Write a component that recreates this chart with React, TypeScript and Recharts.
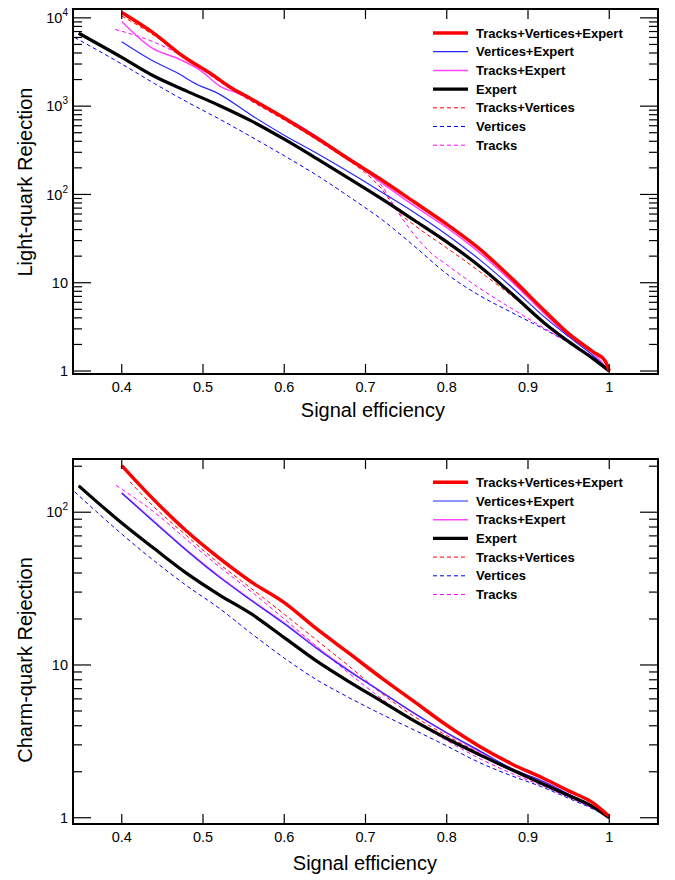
import React from 'react';
import { LineChart, Line, XAxis, YAxis } from 'recharts';

type Pt = [number, number];

// light-quark rejection vs signal efficiency
const lightTVE: Pt[] = [[0.4, 11500], [0.438, 6850], [0.475, 3700], [0.512, 2250], [0.533, 1650], [0.56, 1200], [0.6, 735], [0.64, 435], [0.68, 250], [0.72, 146], [0.76, 82], [0.8, 46], [0.84, 24.3], [0.88, 11.2], [0.92, 4.84], [0.95, 2.65], [0.98, 1.65], [0.995, 1.3], [1, 1]];
const lightVE: Pt[] = [[0.4, 5370], [0.438, 3270], [0.467, 2415], [0.494, 1735], [0.516, 1432], [0.56, 785], [0.6, 468], [0.64, 292], [0.68, 178], [0.72, 106], [0.76, 62.5], [0.8, 35], [0.84, 18.4], [0.88, 8.9], [0.92, 4.1], [0.95, 2.45], [0.98, 1.5], [1, 1]];
const lightTE: Pt[] = [[0.4, 9100], [0.438, 4500], [0.471, 3400], [0.498, 2500], [0.52, 1700], [0.545, 1370], [0.586, 870], [0.627, 540], [0.668, 300], [0.72, 135], [0.76, 74], [0.8, 42], [0.84, 22], [0.88, 10.3], [0.92, 4.5], [0.95, 2.5], [0.98, 1.6], [1, 1]];
const lightE: Pt[] = [[0.347, 6700], [0.4, 3570], [0.44, 2180], [0.48, 1480], [0.52, 1017], [0.56, 676], [0.6, 422], [0.64, 254], [0.68, 151], [0.72, 89], [0.76, 51], [0.8, 29], [0.84, 15.5], [0.88, 7.5], [0.92, 3.5], [0.95, 2.15], [0.98, 1.38], [1, 1]];
const lightTV: Pt[] = [[0.4, 10500], [0.44, 6300], [0.48, 3400], [0.52, 1950], [0.56, 1150], [0.6, 700], [0.64, 420], [0.68, 240], [0.7, 175], [0.72, 115], [0.74, 64], [0.76, 45], [0.8, 24.8], [0.84, 13.5], [0.88, 7.1], [0.92, 3.55], [0.95, 2.15], [0.98, 1.38], [1, 1]];
const lightV: Pt[] = [[0.342, 6000], [0.4, 3000], [0.44, 1810], [0.48, 1120], [0.52, 716], [0.56, 446], [0.6, 274], [0.64, 165], [0.68, 94], [0.72, 52], [0.76, 26], [0.8, 12.6], [0.84, 7.2], [0.88, 4.6], [0.92, 2.97], [0.95, 2.1], [0.98, 1.43], [1, 1]];
const lightT: Pt[] = [[0.392, 7400], [0.44, 5300], [0.48, 3450], [0.52, 1900], [0.56, 1130], [0.6, 700], [0.64, 415], [0.68, 240], [0.7, 185], [0.72, 125], [0.74, 63], [0.76, 35], [0.78, 22], [0.8, 16], [0.84, 8.7], [0.88, 5.1], [0.92, 3.05], [0.95, 2.1], [0.98, 1.45], [1, 1]];

// charm-quark rejection vs signal efficiency
const charmTVE: Pt[] = [[0.4, 202], [0.44, 120], [0.48, 75], [0.52, 50], [0.56, 34.8], [0.6, 25.6], [0.64, 17.2], [0.68, 11.9], [0.72, 8.2], [0.76, 5.75], [0.8, 4.03], [0.84, 2.94], [0.88, 2.25], [0.92, 1.8], [0.95, 1.5], [0.98, 1.25], [1, 1.02]];
const charmVE: Pt[] = [[0.4, 133], [0.44, 86], [0.48, 56], [0.52, 37.6], [0.56, 26.3], [0.6, 18.6], [0.64, 12.8], [0.68, 9.1], [0.72, 6.64], [0.76, 4.83], [0.8, 3.6], [0.84, 2.75], [0.88, 2.1], [0.92, 1.72], [0.95, 1.43], [0.98, 1.19], [1, 1]];
const charmTE: Pt[] = [[0.4, 134], [0.44, 87], [0.48, 56.5], [0.52, 38], [0.56, 26.5], [0.6, 18.8], [0.64, 13], [0.68, 9.2], [0.72, 6.65], [0.76, 4.82], [0.8, 3.58], [0.84, 2.72], [0.88, 2.08], [0.92, 1.7], [0.95, 1.42], [0.98, 1.18], [1, 1]];
const charmE: Pt[] = [[0.347, 149], [0.4, 85], [0.44, 57.8], [0.48, 39.8], [0.52, 28.8], [0.56, 21.5], [0.6, 15.1], [0.64, 10.6], [0.68, 7.76], [0.72, 5.78], [0.76, 4.3], [0.8, 3.3], [0.84, 2.59], [0.88, 2.06], [0.92, 1.65], [0.95, 1.4], [0.98, 1.18], [1, 1]];
const charmTV: Pt[] = [[0.41, 158], [0.44, 108], [0.48, 70], [0.52, 46], [0.56, 31.5], [0.6, 21.5], [0.64, 14.5], [0.68, 9.8], [0.72, 6.5], [0.76, 4.6], [0.8, 3.45], [0.84, 2.65], [0.88, 2.06], [0.92, 1.67], [0.95, 1.4], [0.98, 1.17], [1, 1]];
const charmV: Pt[] = [[0.342, 136], [0.4, 72], [0.44, 48], [0.48, 33], [0.52, 23.5], [0.56, 16], [0.6, 11.1], [0.64, 8.0], [0.68, 6.1], [0.72, 4.75], [0.76, 3.75], [0.8, 2.95], [0.84, 2.3], [0.88, 1.88], [0.92, 1.57], [0.95, 1.34], [0.98, 1.14], [1, 1]];
const charmT: Pt[] = [[0.393, 150], [0.44, 100], [0.48, 66], [0.52, 44], [0.56, 30], [0.6, 20], [0.64, 13.2], [0.68, 8.8], [0.72, 6.0], [0.76, 4.3], [0.8, 3.2], [0.84, 2.45], [0.88, 1.95], [0.92, 1.6], [0.95, 1.36], [0.98, 1.15], [1, 1]];

const SERIES_NAMES = ['Tracks+Vertices+Expert', 'Vertices+Expert', 'Tracks+Expert', 'Expert', 'Tracks+Vertices', 'Vertices', 'Tracks'];
const EFF_TICKS = [0.4, 0.5, 0.6, 0.7, 0.8, 0.9, 1];
const EFF_LABELS = ['0.4', '0.5', '0.6', '0.7', '0.8', '0.9', '1'];
const LIGHT_DECADES = [1, 10, 100, 1000, 10000];
const CHARM_DECADES = [1, 10, 100];

// line styles, same order as SERIES_NAMES
const STYLES = [
  { color: '#ff0000', width: 3.5, dash: undefined },
  { color: '#2626ff', width: 1.2, dash: undefined },
  { color: '#ff44ff', width: 1.5, dash: undefined },
  { color: '#000000', width: 3.2, dash: undefined },
  { color: '#ff0000', width: 1, dash: '4 3' },
  { color: '#0000ee', width: 1, dash: '4 3' },
  { color: '#ff00ff', width: 1, dash: '4 3' },
];
// paint order: dashed first, thick curves last
const DRAW_ORDER = [5, 6, 4, 2, 1, 3, 0];

const FONT = '"Liberation Sans", Arial, Helvetica, sans-serif';
const W = 675;
const PANEL_H = 440;
const PLOT_L = 73;
const PLOT_W = 585;
const PLOT_H = 365;
const Y_AXIS_W = 60;
const X_AXIS_H = 30;

const toRows = (pts: Pt[]) => pts.map(([e, r]) => ({ e, r }));

const logTicks = (decades: number[], max: number) =>
  decades.flatMap((d) => [1, 2, 3, 4, 5, 6, 7, 8, 9].map((m) => m * d)).filter((v) => v <= max);

function YTick({ x, y, payload, decades }: any) {
  const v = payload.value;
  const major = decades.includes(v);
  const len = major ? 18 : 9;
  const exp = Math.round(Math.log10(v));
  return (
    <g>
      <line x1={x} x2={x + len} y1={y} y2={y} stroke="#000" strokeWidth={1.2} />
      <line x1={x + PLOT_W} x2={x + PLOT_W - len} y1={y} y2={y} stroke="#000" strokeWidth={1.2} />
      {major && (
        <text x={x - 5} y={y} dy="0.36em" textAnchor="end" fontSize={14.5} fontFamily={FONT} fill="#000">
          {exp < 2 ? (
            String(v)
          ) : (
            <>
              <tspan>10</tspan>
              <tspan dy={-7} fontSize={10}>{exp}</tspan>
            </>
          )}
        </text>
      )}
    </g>
  );
}

function XTick({ x, y, payload, index }: any) {
  return (
    <g>
      <line x1={x} x2={x} y1={y} y2={y - 10} stroke="#000" strokeWidth={1.2} />
      <line x1={x} x2={x} y1={y - PLOT_H} y2={y - PLOT_H + 10} stroke="#000" strokeWidth={1.2} />
      <text x={x} y={y + 18} textAnchor="middle" fontSize={14.5} fontFamily={FONT} fill="#000">
        {EFF_LABELS[index] ?? String(payload.value)}
      </text>
    </g>
  );
}

interface PanelProps {
  top: number;
  plotTop: number;
  series: Pt[][];
  domain: [number, number];
  decades: number[];
  yTitle: string;
  yTitleCenter: number;
  xTitleRight: number;
  xTitleBase: number;
  legendTop: number;
}

function Panel({ top, plotTop, series, domain, decades, yTitle, yTitleCenter, xTitleRight, xTitleBase, legendTop }: PanelProps) {
  const yTicks = logTicks(decades, domain[1]);
  const bottomMargin = PANEL_H - plotTop - PLOT_H - X_AXIS_H;
  return (
    <div style={{ position: 'absolute', left: 0, top, width: W, height: PANEL_H }}>
      <LineChart
        width={W}
        height={PANEL_H}
        margin={{ top: plotTop, right: W - PLOT_L - PLOT_W, bottom: bottomMargin, left: PLOT_L - Y_AXIS_W }}
      >
        <XAxis
          dataKey="e"
          type="number"
          domain={[0.34, 1.06]}
          allowDataOverflow
          ticks={EFF_TICKS}
          interval={0}
          height={X_AXIS_H}
          axisLine={false}
          tickLine={false}
          tickSize={0}
          tickMargin={0}
          tick={(p: any) => <XTick {...p} />}
        />
        <YAxis
          type="number"
          scale="log"
          domain={domain}
          allowDataOverflow
          ticks={yTicks}
          interval={0}
          width={Y_AXIS_W}
          axisLine={false}
          tickLine={false}
          tickSize={0}
          tickMargin={0}
          tick={(p: any) => <YTick {...p} decades={decades} />}
        />
        {DRAW_ORDER.map((i) => (
          <Line
            key={SERIES_NAMES[i]}
            name={SERIES_NAMES[i]}
            data={toRows(series[i])}
            dataKey="r"
            type="monotone"
            stroke={STYLES[i].color}
            strokeWidth={STYLES[i].width}
            strokeDasharray={STYLES[i].dash}
            dot={false}
            activeDot={false}
            isAnimationActive={false}
          />
        ))}
      </LineChart>
      <svg width={W} height={PANEL_H} style={{ position: 'absolute', left: 0, top: 0, pointerEvents: 'none' }}>
        <rect x={PLOT_L} y={plotTop} width={PLOT_W} height={PLOT_H} fill="none" stroke="#000" strokeWidth={2} />
        <text
          transform={`translate(31.5, ${yTitleCenter}) rotate(-90)`}
          textAnchor="middle"
          fontSize={20}
          fontFamily={FONT}
          fill="#000"
        >
          {yTitle}
        </text>
        <text x={xTitleRight} y={xTitleBase} textAnchor="end" fontSize={20} fontFamily={FONT} fill="#000">
          Signal efficiency
        </text>
        {SERIES_NAMES.map((name, i) => {
          const cy = legendTop + i * 18.7;
          const s = STYLES[i];
          return (
            <g key={name}>
              <line
                x1={433}
                x2={468}
                y1={cy}
                y2={cy}
                stroke={s.color}
                strokeWidth={s.width}
                strokeDasharray={s.dash}
              />
              <text x={476} y={cy + 4.6} fontSize={13} fontWeight="bold" fontFamily={FONT} fill="#000">
                {name}
              </text>
            </g>
          );
        })}
      </svg>
    </div>
  );
}

export default function App() {
  return (
    <div style={{ position: 'absolute', left: 0, top: 0, width: W, height: 880, background: '#fff' }}>
      <Panel
        top={0}
        plotTop={9}
        series={[lightTVE, lightVE, lightTE, lightE, lightTV, lightV, lightT]}
        domain={[0.925, 12600]}
        decades={LIGHT_DECADES}
        yTitle="Light-quark Rejection"
        yTitleCenter={182}
        xTitleRight={445}
        xTitleBase={417}
        legendTop={33}
      />
      <Panel
        top={440}
        plotTop={19}
        series={[charmTVE, charmVE, charmTE, charmE, charmTV, charmV, charmT]}
        domain={[0.91, 223]}
        decades={CHARM_DECADES}
        yTitle="Charm-quark Rejection"
        yTitleCenter={220}
        xTitleRight={437}
        xTitleBase={430}
        legendTop={42.3}
      />
    </div>
  );
}
